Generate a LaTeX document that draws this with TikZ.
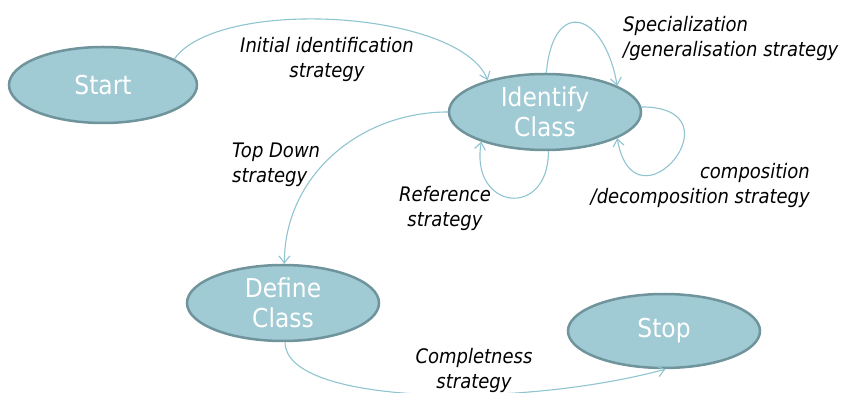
\documentclass[tikz,border=0pt]{standalone}
\usepackage{fontspec}
\newfontfamily\dvfont[FakeStretch=0.9]{DejaVu Sans}
\usetikzlibrary{shapes.geometric,arrows.meta}
\definecolor{efill}{RGB}{160,202,212}
\definecolor{eline}{RGB}{112,148,156}
\definecolor{aline}{RGB}{143,196,208}
\begin{document}
\begin{tikzpicture}[x=1pt,y=1pt,
  state/.style={ellipse, draw=eline, line width=2.5pt, fill=efill, text=white,
    font=\dvfont\fontsize{26}{30}\selectfont, align=center, inner sep=0pt,
    minimum width=192pt, minimum height=76pt},
  conn/.style={draw=aline, line width=1.1pt, -{Straight Barb[length=7pt,width=11pt]}},
  lab/.style={font=\dvfont\itshape\fontsize{20}{25}\selectfont, inner sep=0pt, text=black}]
\useasboundingbox (0,0) rectangle (848,393);
\node[state, minimum width=188pt] (start) at (103,308) {Start};
\node[state] (ident) at (545,281) {Identify\\Class};
\node[state] (define) at (283,90) {Define\\Class};
\node[state, minimum height=74pt] (stop) at (664,62) {Stop};

\draw[conn] (start.20) .. controls +(55:76) and +(112:76) .. (ident.151);
\draw[conn] (ident.180) .. controls +(180:88) and +(90:88) .. (define.88);
\draw[conn] (ident.-85) .. controls +(-90:69) and +(-100:69) .. (ident.-155);
\draw[conn] (ident.88) .. controls +(85:76) and +(100:76) .. (ident.20);
\draw[conn] (ident.3) .. controls +(0:102) and +(-80:100) .. (ident.-20);
\draw[conn] (define.-87) .. controls +(-90:62) and +(195:155) .. (stop.-88);

\node[lab, align=center] (l1) at (327,334) {Initial identification\\strategy};
\node[lab, align=left, anchor=west] (l2) at (232,228) {Top Down\\strategy};
\node[lab, align=center] (l3) at (445,185) {Reference\\strategy};
\node[lab, align=left, anchor=west] (l4) at (623,355) {Specialization\\/generalisation strategy};
\node[lab, align=right, anchor=east] (l5) at (810,208) {composition\\/decomposition strategy};
\node[lab, align=center] (l6) at (474,23) {Completness\\strategy};
\end{tikzpicture}
\end{document}
